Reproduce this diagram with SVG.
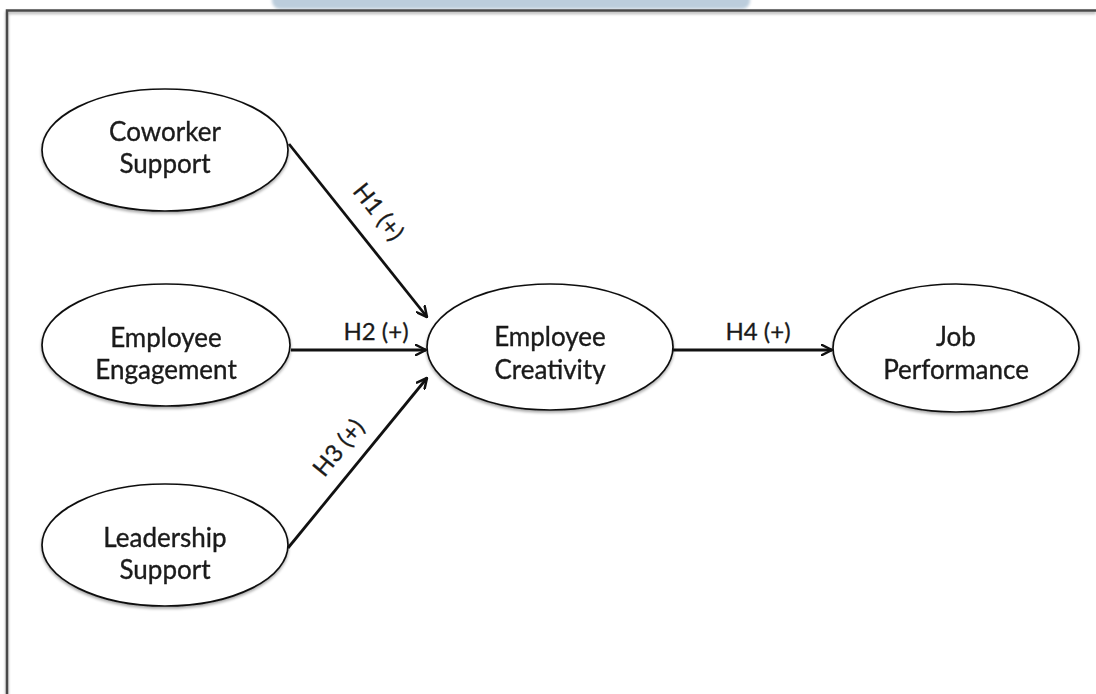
<svg xmlns="http://www.w3.org/2000/svg" width="1096" height="694" viewBox="0 0 1096 694">
  <defs>
    <filter id="sh" x="-10%" y="-10%" width="120%" height="130%">
      <feGaussianBlur in="SourceAlpha" stdDeviation="1.5"/>
      <feOffset dx="0" dy="2" result="b"/>
      <feComponentTransfer><feFuncA type="linear" slope="0.35"/></feComponentTransfer>
      <feMerge><feMergeNode/><feMergeNode in="SourceGraphic"/></feMerge>
    </filter>
    <filter id="blur" x="-5%" y="-50%" width="110%" height="200%">
      <feGaussianBlur stdDeviation="1.5"/>
    </filter>
    <marker id="arr" viewBox="0 0 12 12" refX="11" refY="6" markerWidth="12" markerHeight="12" markerUnits="userSpaceOnUse" orient="auto">
      <path d="M1,1 L11,6 L1,11" fill="none" stroke="#111" stroke-width="2.5" stroke-linecap="round" stroke-linejoin="round"/>
    </marker>
    <style>
      .node ellipse { fill: #fff; stroke: #111; stroke-width: 1.7; }
      .lbl { font-family: Lato, "Open Sans", sans-serif; font-size: 26px; fill: #1a1a1a; text-anchor: middle; stroke: #1a1a1a; stroke-width: 0.35; }
      .elbl { font-family: Lato, "Open Sans", sans-serif; font-size: 24px; fill: #1a1a1a; text-anchor: middle; stroke: #1a1a1a; stroke-width: 0.3; }
      .edge { stroke: #111; stroke-width: 2.8; fill: none; marker-end: url(#arr); }
    </style>
  </defs>

  <rect x="0" y="0" width="1096" height="694" fill="#fff"/>
  <rect x="272" y="-10" width="478" height="19" rx="8" fill="#bccddc" filter="url(#blur)"/>
  <path d="M7,694 L7,10.5 L1096,10.5" fill="none" stroke="#4a4a4a" stroke-width="2.5" filter="url(#sh)"/>

  <g id="connectors">
    <line class="edge" x1="289" y1="144" x2="427" y2="317"/>
    <line class="edge" x1="291" y1="350" x2="426" y2="350"/>
    <line class="edge" x1="288" y1="548" x2="427" y2="378"/>
    <line class="edge" x1="673" y1="350" x2="832" y2="350"/>
    <text class="elbl" transform="translate(372,217) rotate(51.5)">H1 (+)</text>
    <text class="elbl" x="376" y="340">H2 (+)</text>
    <text class="elbl" transform="translate(345,453) rotate(-50.5)">H3 (+)</text>
    <text class="elbl" x="758" y="340">H4 (+)</text>
  </g>

  <g id="coworker-support" class="node" filter="url(#sh)">
    <ellipse cx="165" cy="150" rx="123" ry="61"/>
    <text class="lbl" x="165" y="141">Coworker</text>
    <text class="lbl" x="165" y="173">Support</text>
  </g>
  <g id="employee-engagement" class="node" filter="url(#sh)">
    <ellipse cx="166" cy="345" rx="124" ry="61"/>
    <text class="lbl" x="166" y="347">Employee</text>
    <text class="lbl" x="166" y="379">Engagement</text>
  </g>
  <g id="leadership-support" class="node" filter="url(#sh)">
    <ellipse cx="165" cy="545" rx="123" ry="61"/>
    <text class="lbl" x="165" y="547">Leadership</text>
    <text class="lbl" x="165" y="579">Support</text>
  </g>
  <g id="employee-creativity" class="node" filter="url(#sh)">
    <ellipse cx="550" cy="347" rx="123" ry="63"/>
    <text class="lbl" x="550" y="346">Employee</text>
    <text class="lbl" x="550" y="379">Creativity</text>
  </g>
  <g id="job-performance" class="node" filter="url(#sh)">
    <ellipse cx="956" cy="348" rx="123" ry="64"/>
    <text class="lbl" x="956" y="346">Job</text>
    <text class="lbl" x="956" y="379">Performance</text>
  </g>
</svg>
